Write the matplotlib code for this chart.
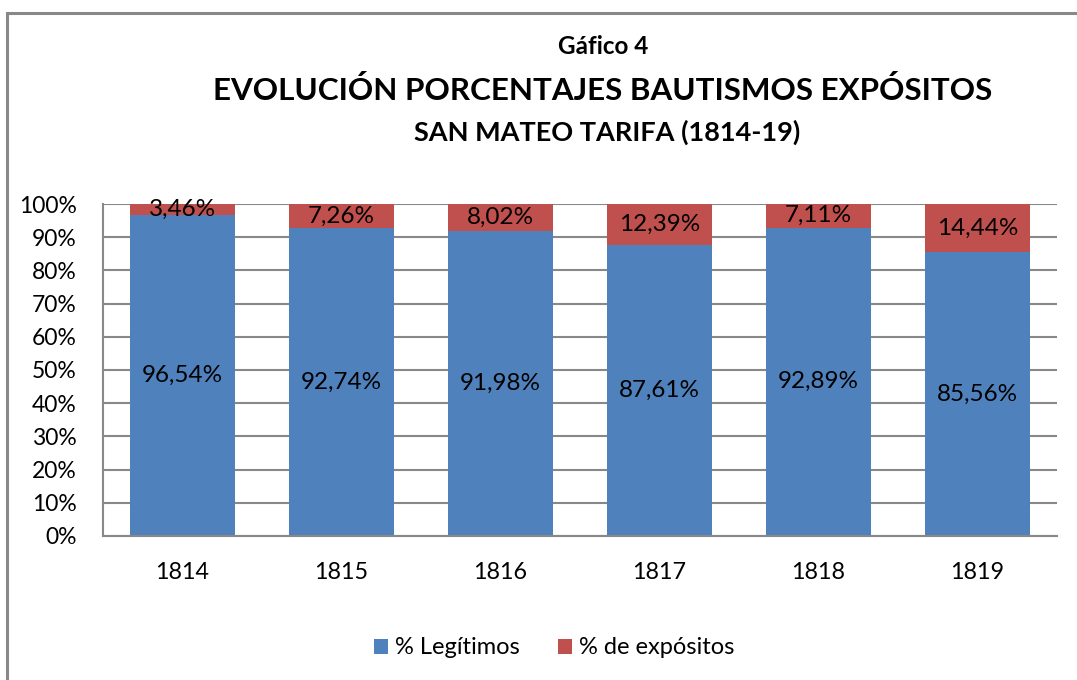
import matplotlib.pyplot as plt
from matplotlib.patches import Rectangle

# ------------------------------- Data -------------------------------
years = ["1814", "1815", "1816", "1817", "1818", "1819"]
legitimos = [96.54, 92.74, 91.98, 87.61, 92.89, 85.56]
expositos = [3.46, 7.26, 8.02, 12.39, 7.11, 14.44]
yticks = [0, 10, 20, 30, 40, 50, 60, 70, 80, 90, 100]

BLUE = "#4F81BD"
RED = "#C0504D"
GRID = "#888888"

plt.rcParams["font.family"] = ["Lato", "DejaVu Sans"]

W, H = 1077, 680
fig = plt.figure(figsize=(W / 100, H / 100), dpi=100)

# outer chart border (Excel chart area)
fig.patches.append(Rectangle((7 / W, -0.1), 1.2, (1 - 13 / H) + 0.1, transform=fig.transFigure,
                             fill=False, edgecolor=GRID, linewidth=2.2))

ax = fig.add_axes([103 / W, 1 - 536 / H, (1057 - 103) / W, (536 - 204) / H])

x = range(len(years))
b1 = ax.bar(x, legitimos, width=0.655, color=BLUE, zorder=2, label="% Legítimos")
b2 = ax.bar(x, expositos, width=0.655, bottom=legitimos, color=RED, zorder=2, label="% de expósitos")

def fmt(v):
    return f"{v:.2f}".replace(".", ",") + "%"

for i in x:
    ax.text(i, legitimos[i] / 2, fmt(legitimos[i]), ha="center", va="center", fontsize=17.5, zorder=3)
    ax.text(i, legitimos[i] + expositos[i] / 2, fmt(expositos[i]), ha="center", va="center",
            fontsize=17.5, zorder=3)

ax.set_xlim(-0.5, len(years) - 0.5)
ax.set_ylim(0, 100)
ax.set_yticks(yticks)
ax.set_yticklabels([f"{t}%" for t in yticks])
ax.set_xticks(list(x))
ax.set_xticklabels(years)
ax.yaxis.grid(True, color=GRID, linewidth=1.5, zorder=0)
ax.tick_params(axis="y", length=0, pad=19, labelsize=16.5)
ax.tick_params(axis="x", length=0, pad=19, labelsize=16.8)
for side in ["top", "right"]:
    ax.spines[side].set_visible(False)
for side in ["left", "bottom"]:
    ax.spines[side].set_color(GRID)
    ax.spines[side].set_linewidth(1.5)

# titles
fig.text(603 / W, 1 - 47 / H, "Gáfico 4", ha="center", va="center", fontsize=17.5, fontweight="bold")
fig.text(603 / W, 1 - 90 / H, "EVOLUCIÓN PORCENTAJES BAUTISMOS EXPÓSITOS", ha="center", va="center",
         fontsize=22.6, fontweight="bold")
fig.text(607 / W, 1 - 132 / H, "SAN MATEO TARIFA (1814-19)", ha="center", va="center",
         fontsize=19.5, fontweight="bold")

fig.legend(handles=[b1, b2], loc="center", bbox_to_anchor=(554 / W, 1 - 648 / H), ncol=2,
           frameon=False, fontsize=17, handlelength=0.6, handleheight=0.6, handletextpad=0.3,
           columnspacing=1.6)

fig.savefig("out.png", dpi=100)
